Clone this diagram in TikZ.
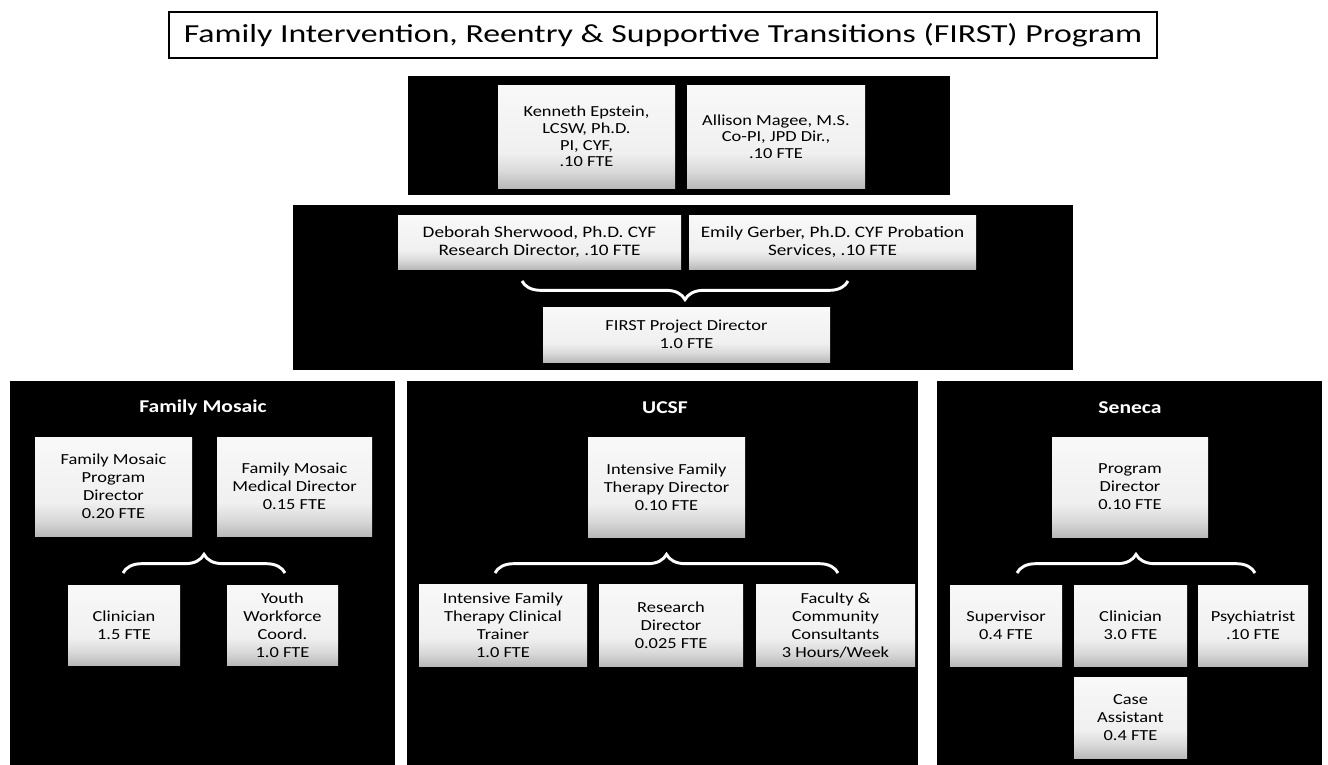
\documentclass[tikz,border=0pt]{standalone}
\usepackage{fontspec}
\setmainfont{Carlito}
\newfontfamily\boxfont{Carlito}[FakeStretch=1.2]
\newfontfamily\titlefont{Carlito}[FakeStretch=1.3]
\usetikzlibrary{fit,decorations.pathreplacing}
\pgfdeclareverticalshading{boxshade}{100bp}{color(0bp)=(gray!55); color(25bp)=(gray!55); color(33bp)=(gray!30); color(42bp)=(gray!12); color(75bp)=(gray!5); color(100bp)=(gray!5)}
\begin{document}
\begin{tikzpicture}[x=0.75pt,y=-0.75pt,
  panel/.style={fill=black, draw=none, inner sep=0pt},
  box/.style={shade, shading=boxshade, draw=none, inner sep=0pt, align=center,
    font=\boxfont\fontsize{11.5}{13.5}\selectfont},
  wh/.style 2 args={minimum width=#1pt, minimum height=#2pt},
  head/.style={text=white, font=\boxfont\bfseries\fontsize{13.5}{16}\selectfont},
  brc/.style={draw=white, line width=2.2pt, decorate, decoration={brace, amplitude=14pt}}]
\useasboundingbox (0,0) rectangle (1328,764);
% title
\node[draw, line width=1.2pt, inner sep=0pt, wh={741}{34.5},
  font=\titlefont\fontsize{19.5}{23}\selectfont] (title) at (663,35)
  {Family Intervention, Reentry \& Supportive Transitions (FIRST) Program};
% panels
\node[panel, fit={(408,76) (950,195)}] (ptop) {};
\node[panel, fit={(293,205) (1073,370)}] (pmid) {};
\node[panel, fit={(10,381) (395,770)}] (pfm) {};
\node[panel, fit={(407,381) (918,770)}] (pucsf) {};
\node[panel, fit={(937,381) (1322,770)}] (psen) {};
% top
\node[box, wh={132.75}{77.25}, font=\boxfont\fontsize{11.5}{12.5}\selectfont] (ken) at (586.5,136.5) {Kenneth Epstein,\\ LCSW, Ph.D.\\ PI, CYF,\\ .10 FTE};
\node[box, wh={133.5}{77.25}, font=\boxfont\fontsize{11.5}{12.5}\selectfont] (all) at (776,136.5) {Allison Magee, M.S.\\ Co-PI, JPD Dir.,\\ .10 FTE};
% middle
\node[box, wh={212.25}{40.5}, font=\boxfont\fontsize{12}{13.5}\selectfont] (deb) at (539.5,242) {Deborah Sherwood, Ph.D. CYF\\ Research Director, .10 FTE};
\node[box, wh={215.25}{40.5}, font=\boxfont\fontsize{12}{13.5}\selectfont] (emi) at (832.5,242) {Emily Gerber, Ph.D. CYF Probation\\ Services, .10 FTE};
\node[box, wh={215.25}{41.25}] (first) at (686.5,334.5) {FIRST Project Director\\ 1.0 FTE};
\coordinate (b1l) at (522,281);
\coordinate (b1r) at (848,281);
\draw[brc] (b1r) -- (b1l);
% Family Mosaic
\node[head] (hfm) at (203,408) {Family Mosaic};
\node[box, wh={117.75}{74.25}] (fmpd) at (113.5,486.5) {Family Mosaic\\ Program\\ Director\\ 0.20 FTE};
\node[box, wh={116.25}{74.25}] (fmmd) at (294.5,486.5) {Family Mosaic\\ Medical Director\\ 0.15 FTE};
\node[box, wh={84}{60}] (fmcl) at (124,625) {Clinician\\ 1.5 FTE};
\node[box, wh={83.25}{60}] (fmyw) at (282.5,625) {Youth\\ Workforce\\ Coord.\\ 1.0 FTE};
\coordinate (b2l) at (123,573);
\coordinate (b2r) at (285,573);
\draw[brc] (b2l) -- (b2r);
% UCSF
\node[head] (hucsf) at (665,408) {UCSF};
\node[box, wh={117.75}{75}] (iftd) at (666.5,487) {Intensive Family\\ Therapy Director\\ 0.10 FTE};
\node[box, wh={126}{61.5}] (iftt) at (503,625) {Intensive Family\\ Therapy Clinical\\ Trainer\\ 1.0 FTE};
\node[box, wh={108}{61.5}] (resd) at (671,625) {Research\\ Director\\ 0.025 FTE};
\node[box, wh={119.25}{61.5}] (facc) at (835.5,625) {Faculty \&\\ Community\\ Consultants\\ 3 Hours/Week};
\coordinate (b3l) at (495,573);
\coordinate (b3r) at (838,573);
\draw[brc] (b3l) -- (b3r);
% Seneca
\node[head] (hsen) at (1130,408) {Seneca};
\node[box, wh={117}{75}] (spd) at (1130,487) {Program\\ Director\\ 0.10 FTE};
\node[box, wh={84}{60.75}] (ssup) at (1006,625.5) {Supervisor\\ 0.4 FTE};
\node[box, wh={84.75}{60.75}] (scl) at (1130.5,625.5) {Clinician\\ 3.0 FTE};
\node[box, wh={82.5}{60.75}] (spsy) at (1253,625.5) {Psychiatrist\\ .10 FTE};
\node[box, wh={84.75}{60.75}] (scase) at (1130.5,717.5) {Case\\ Assistant\\ 0.4 FTE};
\coordinate (b4l) at (1017,573);
\coordinate (b4r) at (1255,573);
\draw[brc] (b4l) -- (b4r);
\end{tikzpicture}
\end{document}
